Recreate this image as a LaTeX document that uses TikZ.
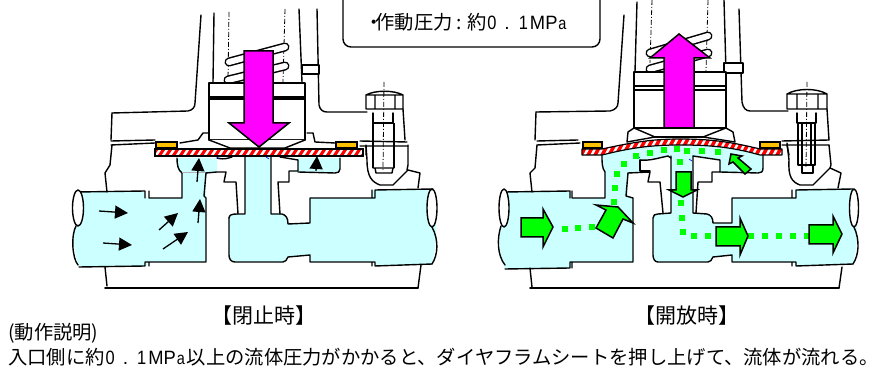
\documentclass[tikz,border=0pt]{standalone}
\usepackage{fontspec}
\usepackage{graphicx}
\setmainfont{Noto Sans CJK JP}
\newfontfamily\lat{Liberation Sans}
\usetikzlibrary{arrows.meta}
\definecolor{fluid}{HTML}{CCFFFF}
\definecolor{mag}{HTML}{FF00FF}
\definecolor{grn}{HTML}{00FF00}
\definecolor{pad}{HTML}{FFC000}
\newcommand{\mpa}{{\lat\hspace{1pt}\scalebox{0.85}[1]{0}\hspace{8pt}.\hspace{9pt}\scalebox{0.85}[1]{1}\hspace{2pt}\scalebox{0.95}[1]{MP}\hspace{1pt}\scalebox{0.75}[0.9]{a}\hspace{2pt}}}
\newcommand{\coil}[2]{\draw[line width=9pt,line cap=round] #1 -- #2; \draw[line width=6pt,white,line cap=round] #1 -- #2;}
\tikzset{
 ln/.style={line width=1.4pt,line join=round,line cap=round},
 thk/.style={line width=1.9pt},
 dd/.style={line width=0.8pt,dash pattern=on 5pt off 2pt on 1pt off 2pt},
 bigarrow/.style={fill=#1,draw=black,line width=1.5pt,line join=miter},
 small/.style={line width=1.3pt,-{Triangle[length=13pt,width=13pt]}},
 padbox/.style={fill=pad,draw=black,line width=1.2pt},
 txt/.style={inner sep=0pt,anchor=west,font=\fontsize{19.3}{22}\selectfont},
 lbl/.style={inner sep=0pt,font=\fontsize{21}{24}\selectfont},
}
\begin{document}
\begin{tikzpicture}[x=1pt,y=-1pt]
\useasboundingbox (0,0) rectangle (876,371);
\fill[white] (0,0) rectangle (876,371);
% ---------- fluid, left
\fill[fluid] (77,192) -- (145,192) -- (147,198) -- (182,198) -- (182,173) -- (178,170) -- (177,158) -- (217,158) -- (217,172) -- (206,173) -- (206,262) -- (147,262) -- (147,266) -- (79,267) .. controls (73,250) and (73,235) .. (76,222) -- cycle;
\fill[fluid] (229,218) .. controls (229,215) and (232,214) .. (237,214) -- (245,214) -- (245,157) -- (271,157) -- (271,214) -- (282,214) .. controls (286,215) and (288,218) .. (288,224) -- (310,223) -- (310,198) -- (372,198) -- (372,190) -- (433,189) .. controls (437,215) and (438,240) .. (432,264) -- (375,266) -- (375,262) -- (310,262) -- (310,255) -- (288,257) .. controls (287,260) and (285,262) .. (283,262) -- (235,262) .. controls (231,262) and (229,259) .. (229,255) -- cycle;
\fill[fluid] (298,158) -- (340,158) -- (340,169) .. controls (340,172) and (338,173) .. (335,173) -- (290,172) -- (298,171) -- cycle;
% ---------- outlines, left lower
\draw[ln] (77,192) -- (145,191) (145,191) -- (145,198) (149,191) -- (149,198) -- (182,198) -- (182,173);
\draw[ln] (177,158) .. controls (177,165) and (178,170) .. (182,173);
\draw[draw=gray!60,line width=0.8pt] (182,172) -- (206,172);
\draw[ln] (206,173) -- (204,196) -- (206,198) -- (206,262) -- (149,262) -- (149,266) (145,262) -- (145,266) (145,262) -- (149,262) (79,267) -- (145,266);
\draw[ln] (206,173) -- (217,172) -- (226,172) -- (224,182) -- (236,182) -- (238,214);
\draw[ln] (217,158) .. controls (225,160) and (228,158) .. (232,157);
\draw[ln] (229,218) .. controls (229,215) and (232,214) .. (237,214) -- (245,214) -- (245,157);
\draw[ln] (271,157) -- (271,214) -- (282,214) .. controls (286,215) and (288,218) .. (288,224) -- (310,223) -- (310,198) -- (372,198) -- (372,190) (375,190) -- (375,198) (372,198) -- (375,198) (375,190) -- (433,189);
\draw[ln] (229,218) -- (229,255) .. controls (229,259) and (231,262) .. (235,262) -- (283,262) .. controls (285,262) and (287,260) .. (288,257) -- (310,255) -- (310,262) -- (372,262) -- (372,266) (375,262) -- (375,266) (372,262) -- (375,262) (375,266) -- (432,264);
\draw[ln] (280,157) -- (298,160) -- (298,171) -- (289,171) -- (289,182) -- (278,182) -- (280,214);
\draw[ln] (340,158) -- (340,169) .. controls (340,172) and (338,173) .. (335,173) -- (298,172);
% pipe ends, left
\draw[ln,fill=white] (78,208) ellipse [x radius=5.5,y radius=18];
\draw[ln] (76,226) .. controls (71,235) and (72,258) .. (78,265);
\draw[ln,fill=white] (432,208) ellipse [x radius=5,y radius=19];
\draw[ln] (432,227) .. controls (439,240) and (438,255) .. (432,264);
% body, left
\draw[ln] (112,145) -- (110,165) -- (105,173) -- (107,192);
\draw[ln] (105,267) -- (107,286);
\draw[ln,line width=1.6pt] (105,288) -- (418,288);
\draw[ln] (421,265) -- (418,288);
\draw[ln] (418,188) -- (420,173) -- (408,170) -- (393,185) -- (380,185) .. controls (372,182) and (367,177) .. (367,160) -- (366,145);
\draw[ln] (408,145) -- (408,165) -- (407,170);
% housing, left
\draw[ln] (112,113) -- (188,111) .. controls (193,110) and (195,107) .. (195,103) -- (201,15);
\draw[ln] (112,113) -- (111,140);
\draw[ln] (214,13) -- (213,82);
\draw[ln] (299,9) -- (302,82);
\draw[ln] (317,9) -- (319,105) .. controls (320,110) and (323,112) .. (327,112) -- (367,112);
\draw[dd] (229,12) -- (228,80) (285,9) -- (283,82);
\coil{(229,62)}{(285,47)}
\coil{(228,80)}{(285,66)}
\draw[ln,fill=white] (302,65) rectangle (319,74);
\draw[ln] (111,141) -- (155,140) (111,145) -- (155,143);
\draw[ln] (360,141) -- (407,142) (360,146) -- (408,146) (366,146) -- (366,155);
% bolt, left
\draw[dd] (384,82) -- (383,170);
\draw[ln] (366,109) -- (366,95) .. controls (375,90) and (394,90) .. (403,95) -- (403,109) -- cycle (366,95) -- (403,95) (375,95) -- (375,109) (395,95) -- (395,109);
\draw[ln] (403,109) -- (405,140);
\draw[ln] (373,113) -- (373,123) (393,113) -- (393,123) (373,123) -- (393,123);
\draw[thk] (373,123) -- (373,168) (394,123) -- (394,168);
\draw[ln] (373,168) -- (394,168) (375,168) -- (376,173) -- (392,173) -- (393,168);
% piston, left
\draw[ln] (180,143) -- (198,140) -- (203,133) -- (208,133) (307,133) -- (313,133) -- (315,142) -- (335,143);
\draw[ln,fill=white] (209,83) rectangle (305,140);
\draw[ln,fill=white] (209,140) -- (230,148) -- (285,148) -- (305,140);
\draw[ln] (209,97) -- (305,97) (209,99) -- (305,99);
% diaphragm, left
\begin{scope}
\clip (155,149) rectangle (363,156);
\fill[red] (155,149) rectangle (363,156);
\foreach \i in {0,...,30} \draw[white,line width=2.4pt] ({155+\i*7},157) -- ({161+\i*7},148);
\end{scope}
\draw[line width=1.6pt] (155,149) rectangle (363,156);
\draw[padbox] (156,142) rectangle (177,148);
\draw[padbox] (336,142) rectangle (357,148);
\draw[blue,line width=0.6pt] (217,157) -- (219,159) (266,157) -- (269,159);
% magenta arrow, left
\draw[bigarrow=mag] (244,51) -- (273,51) -- (273,123) -- (289,123) -- (259,147) -- (229,123) -- (244,123) -- cycle;
% small arrows
\draw[small] (99,211) -- (128,213);
\draw[small] (103,243) -- (132,245);
\draw[small] (159,230) -- (178,213);
\draw[small] (163,249) -- (188,232);
\draw[small] (197,182) -- (199,158);
\draw[small] (198,223) -- (200,199);
\draw[small] (316,171) -- (317,156);
% ---------- fluid, right
\fill[fluid] (505,192) -- (570,192) -- (572,198) -- (605,198) -- (605,172) -- (602,160) -- (602,155) .. controls (630,148) and (650,145) .. (680,145) .. controls (715,145) and (735,148) .. (763,155) -- (763,168) .. controls (763,172) and (761,173) .. (758,173) -- (712,172) -- (720,172) -- (720,160) -- (693,156) -- (693,213) -- (707,214) .. controls (711,215) and (713,218) .. (713,223) -- (732,223) -- (732,198) -- (795,198) -- (795,189) -- (853,189) .. controls (858,215) and (859,240) .. (853,264) -- (795,266) -- (795,262) -- (732,262) -- (732,255) -- (713,257) .. controls (712,260) and (710,262) .. (708,262) -- (658,262) .. controls (655,262) and (653,259) .. (653,255) -- (653,218) .. controls (653,215) and (655,214) .. (658,214) -- (671,213) -- (671,156) -- (640,160) -- (640,171) -- (628,173) -- (628,198) -- (633,198) -- (633,262) -- (572,262) -- (570,268) -- (505,269) .. controls (498,250) and (498,235) .. (502,222) -- cycle;
\fill[fluid] (671,150) rectangle (693,214);
\fill[fluid] (602,155) -- (640,150) -- (640,173) -- (605,173) -- cycle;
\fill[fluid] (693,150) -- (763,155) -- (763,170) -- (720,172) -- (720,160) -- (693,156) -- cycle;
\fill[white] (640,160) -- (668,156) -- (671,158) -- (671,213) -- (663,213) -- (660,182) -- (648,182) -- (650,172) -- (640,171) -- cycle;
\fill[white] (693,156) -- (720,160) -- (720,172) -- (712,172) -- (712,182) -- (698,182) -- (696,213) -- (693,213) -- cycle;
% outlines, right
\draw[ln] (505,192) -- (570,191) -- (570,198) (572,191) -- (572,198) -- (605,198) -- (605,172) .. controls (602,168) and (602,163) .. (602,155);
\draw[ln] (628,173) -- (626,196) -- (633,198) -- (633,262) -- (572,262) -- (572,268) (570,262) -- (570,268) (570,262) -- (572,262) (505,269) -- (570,268);
\draw[ln] (628,173) -- (650,172) -- (648,182) -- (660,182) -- (663,213);
\draw[ln] (640,160) -- (640,171) -- (650,171);
\draw[ln] (640,160) .. controls (650,161) and (658,158) .. (668,156) -- (671,158);
\draw[ln] (671,156) -- (671,213) -- (658,214) .. controls (655,214) and (653,215) .. (653,218) -- (653,255) .. controls (653,259) and (655,262) .. (658,262) -- (708,262) .. controls (710,262) and (712,260) .. (713,257) -- (732,255) -- (732,262) -- (792,262) -- (792,266) (796,262) -- (796,266) (792,262) -- (796,262) (796,266) -- (853,264);
\draw[ln] (693,156) -- (693,213) -- (707,214) .. controls (711,215) and (713,218) .. (713,223) -- (732,223) -- (732,198) -- (792,198) -- (792,190) (796,190) -- (796,198) (792,198) -- (796,198) (796,190) -- (853,189);
\draw[ln] (693,156) -- (720,160) -- (720,172) -- (712,172) -- (712,182) -- (698,182) -- (696,213);
\draw[ln] (763,155) -- (763,168) .. controls (763,172) and (761,173) .. (758,173) -- (720,172);
% pipe ends, right
\draw[ln,fill=white] (504,208) ellipse [x radius=5,y radius=19];
\draw[ln] (501,226) .. controls (497,238) and (497,255) .. (505,265);
\draw[ln,fill=white] (854,208) ellipse [x radius=4.5,y radius=19];
\draw[ln] (854,227) .. controls (860,240) and (859,255) .. (853,264);
% body, right
\draw[ln] (537,145) -- (535,168) -- (530,173) -- (532,192);
\draw[ln] (530,268) -- (532,287);
\draw[ln,line width=1.6pt] (530,288) -- (839,288);
\draw[ln] (842,267) -- (839,288);
\draw[ln] (838,188) -- (841,173) -- (830,168) -- (813,185) -- (800,185) .. controls (792,182) and (788,177) .. (789,160) -- (787,143);
\draw[ln] (829,145) -- (831,165) -- (830,168);
% housing, right
\draw[ln] (536,112) -- (610,111) .. controls (615,110) and (618,107) .. (618,103) -- (624,15);
\draw[ln] (536,112) -- (535,140);
\draw[ln] (637,2) -- (635,72);
\draw[ln] (724,0) -- (726,72);
\draw[ln] (739,9) -- (742,102) .. controls (743,108) and (746,111) .. (750,111) -- (788,111);
\draw[dd] (652,0) -- (650,63) (708,0) -- (706,72);
\coil{(650,53)}{(708,36)}
\coil{(650,69)}{(708,53)}
\draw[ln,fill=white] (724,63) rectangle (743,73);
\draw[ln] (537,141) -- (578,140) (537,145) -- (580,143);
\draw[ln] (782,141) -- (829,140) (782,145) -- (829,145) (787,145) -- (789,155);
% bolt, right
\draw[dd] (807,82) -- (806,168);
\draw[ln] (787,109) -- (787,94) .. controls (797,88) and (817,88) .. (827,94) -- (827,109) -- cycle (787,94) -- (827,94) (797,94) -- (797,109) (818,94) -- (818,109);
\draw[ln] (827,109) -- (829,140);
\draw[ln] (797,113) -- (797,123) (816,113) -- (816,123) (798,123) -- (815,123);
\draw[ln] (798,123) -- (798,165) (802,123) -- (802,165) (815,123) -- (815,165) (811,123) -- (811,165) (798,165) -- (815,165) (802,165) -- (802,173) -- (813,173) -- (813,165);
% piston, right
\draw[ln,fill=white] (634,72) rectangle (726,128);
\draw[ln] (634,86) -- (726,86) (634,90) -- (726,90);
\draw[ln,fill=white] (634,128) -- (628,132) -- (627,142) -- (655,137) -- (634,128);
\draw[ln,fill=white] (726,128) -- (733,132) -- (735,142) -- (703,137) -- (726,128);
\draw[ln] (634,128) -- (726,128) (655,137) -- (703,137);
% diaphragm, right
\begin{scope}
\clip (582,149) -- (602,149) .. controls (630,143) and (650,139) .. (680,139) .. controls (715,139) and (735,143) .. (760,149) -- (782,149) -- (782,155) -- (760,155) .. controls (735,148) and (715,145) .. (680,145) .. controls (650,145) and (630,148) .. (602,155) -- (582,155) -- cycle;
\fill[red] (580,135) rectangle (785,157);
\foreach \i in {0,...,30} \draw[white,line width=2.4pt] ({576+\i*7},158) -- ({588+\i*7},136);
\end{scope}
\draw[line width=1.2pt,line join=round] (582,149) -- (602,149) .. controls (630,143) and (650,139) .. (680,139) .. controls (715,139) and (735,143) .. (760,149) -- (782,149) -- (782,155) -- (760,155) .. controls (735,148) and (715,145) .. (680,145) .. controls (650,145) and (630,148) .. (602,155) -- (582,155) -- cycle;
\draw[padbox] (583,142) rectangle (602,148);
\draw[padbox] (760,142) rectangle (780,148);
\draw[blue,line width=0.6pt] (638,159) -- (640,157) (689,159) -- (692,161);
% green dots
\foreach \px/\py in {565/229,578/228,592/227,614/202,615/188,617/174,624/164,636/156,650/153,664/150,677/149,687/151,702/151,718/152,680/162,681/203,682/218,683/232,694/236,708/236,751/236,765/236,779/236,793/236,807/236}
 \fill[grn] ({\px-3.2},{\py-3.2}) rectangle ({\px+3.2},{\py+3.2});
% green arrows
\draw[bigarrow=grn] (521,218) -- (543,218) -- (543,209) -- (553,227) -- (543,247) -- (543,237) -- (521,237) -- cycle;
\draw[bigarrow=grn] (596,228) -- (613,238) -- (623,219) -- (633,223) -- (618,207) -- (596,205) -- (606,210) -- cycle;
\draw[bigarrow=grn] (676,172) -- (691,172) -- (691,190) -- (697,190) -- (683,197) -- (669,190) -- (676,190) -- cycle;
\draw[bigarrow=grn] (716,227) -- (740,227) -- (740,218) -- (748,236) -- (740,255) -- (740,246) -- (716,246) -- cycle;
\draw[bigarrow=grn] (809,225) -- (833,225) -- (833,216) -- (842,234) -- (833,253) -- (833,244) -- (809,244) -- cycle;
\draw[bigarrow=grn] (751,169) -- (745,174) -- (733,162) -- (729,164) -- (731,154) -- (742,156) -- (738,158) -- cycle;
% magenta arrow, right
\draw[bigarrow=mag] (664,128) -- (664,58) -- (650,58) -- (679,34) -- (710,58) -- (694,58) -- (694,128) -- cycle;
% callout
\draw[line width=1.4pt,rounded corners=8pt] (343,0) -- (343,47) -- (600,47) -- (600,0);
% texts
\node[txt] (spec) at (364,22) {・\hspace{-8pt}作動圧力\hspace{4pt}:\hspace{5pt}約\mpa};
\node[lbl] (closed) at (264,316) {【閉止時】};
\node[lbl] (opened) at (687,316) {【開放時】};
\node[txt] (heading) at (8,333) {(動作説明)};
\node[txt] (desc) at (8,357) {入口側に約\mpa 以上の流体圧力がかかると、ダイヤフラムシートを押し上げて、流体が流れる。};
\end{tikzpicture}
\end{document}
